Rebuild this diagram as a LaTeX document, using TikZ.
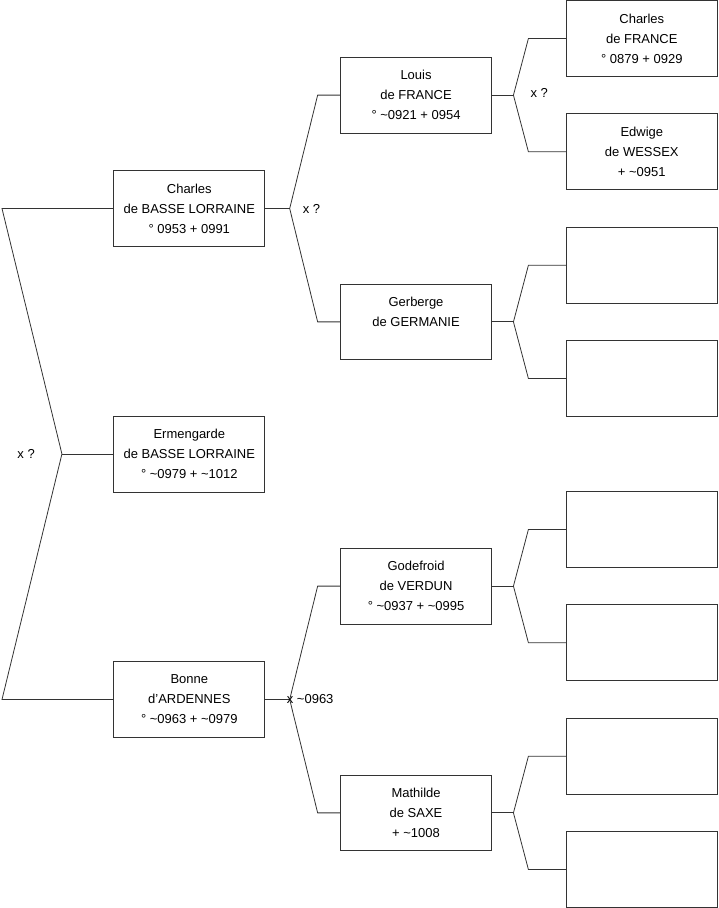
\documentclass[tikz,border=0pt]{standalone}
\usepackage{fontspec}
\setmainfont{Liberation Sans}
\usetikzlibrary{positioning,calc}
\newcommand{\abt}{\textasciitilde}

\begin{document}
\begin{tikzpicture}[
    x=1pt, y=-1pt,
    node distance=37.5pt,
    person/.style={rectangle, draw=black!80, line width=0.8pt, minimum width=151pt, minimum height=76pt, inner sep=0pt, outer sep=0pt, align=center, font=\fontsize{13}{20}\selectfont},
    link/.style={draw=black!80, line width=0.8pt},
    union/.style={anchor=west, inner sep=0pt, font=\fontsize{13}{16}\selectfont}
]
\useasboundingbox (0,-0.5) rectangle (719,908.5);

% Generation 4
\node[person] (charlesfr) at (642.5,38) {Charles\\de FRANCE\\° 0879 + 0929};
\node[person, below=of charlesfr] (edwige) {Edwige\\de WESSEX\\+ \abt0951};
\node[person, below=of edwige] (gerbergeF) {};
\node[person, below=of gerbergeF] (gerbergeM) {};
\node[person, below=75pt of gerbergeM] (godefroidF) {};
\node[person, below=of godefroidF] (godefroidM) {};
\node[person, below=of godefroidM] (mathildeF) {};
\node[person, below=of mathildeF] (mathildeM) {};

% Generation 3
\node[person] (louis) at ($(charlesfr)!.5!(edwige) + (-226,0)$) {Louis\\de FRANCE\\° \abt0921 + 0954};
\node[person] (gerberge) at ($(gerbergeF)!.5!(gerbergeM) + (-226,0)$) {Gerberge\\de GERMANIE\\~};
\node[person] (godefroid) at ($(godefroidF)!.5!(godefroidM) + (-226,0)$) {Godefroid\\de VERDUN\\° \abt0937 + \abt0995};
\node[person] (mathilde) at ($(mathildeF)!.5!(mathildeM) + (-226,0)$) {Mathilde\\de SAXE\\+ \abt1008};

% Generation 2
\node[person] (charles) at ($(louis)!.5!(gerberge) + (-227,0)$) {Charles\\de BASSE LORRAINE\\° 0953 + 0991};
\node[person] (bonne) at ($(godefroid)!.5!(mathilde) + (-227,0)$) {Bonne\\d'ARDENNES\\° \abt0963 + \abt0979};
\node[person] (ermengarde) at ($(charles)!.5!(bonne)$) {Ermengarde\\de BASSE LORRAINE\\° \abt0979 + \abt1012};

% Parents of Ermengarde
\draw[link] (ermengarde.west) -- ++(-52,0) coordinate (u1);
\draw[link] (u1) -- ([xshift=-112pt]charles.west) -- (charles.west);
\draw[link] (u1) -- ([xshift=-112pt]bonne.west) -- (bonne.west);
\node[union, anchor=east] at ([xshift=-27pt]u1) {x ?};

% Parents of Charles and Bonne
\draw[link] (charles.east) -- ++(25,0) coordinate (u2);
\draw[link] (u2) -- ([xshift=-23pt]louis.west) -- (louis.west);
\draw[link] (u2) -- ([xshift=-23pt]gerberge.west) -- (gerberge.west);
\node[union] at ([xshift=13pt]u2) {x ?};
\draw[link] (bonne.east) -- ++(25,0) coordinate (u3);
\draw[link] (u3) -- ([xshift=-23pt]godefroid.west) -- (godefroid.west);
\draw[link] (u3) -- ([xshift=-23pt]mathilde.west) -- (mathilde.west);
\node[union] at ([xshift=-3pt]u3) {x \abt0963};

% Generation 3 to 4
\draw[link] (louis.east) -- ++(22,0) coordinate (u4);
\draw[link] (u4) -- ([xshift=-38pt]charlesfr.west) -- (charlesfr.west);
\draw[link] (u4) -- ([xshift=-38pt]edwige.west) -- (edwige.west);
\node[union] at ([xshift=17pt,yshift=2pt]u4) {x ?};
\draw[link] (gerberge.east) -- ++(22,0) coordinate (u5);
\draw[link] (u5) -- ([xshift=-38pt]gerbergeF.west) -- (gerbergeF.west);
\draw[link] (u5) -- ([xshift=-38pt]gerbergeM.west) -- (gerbergeM.west);
\draw[link] (godefroid.east) -- ++(22,0) coordinate (u6);
\draw[link] (u6) -- ([xshift=-38pt]godefroidF.west) -- (godefroidF.west);
\draw[link] (u6) -- ([xshift=-38pt]godefroidM.west) -- (godefroidM.west);
\draw[link] (mathilde.east) -- ++(22,0) coordinate (u7);
\draw[link] (u7) -- ([xshift=-38pt]mathildeF.west) -- (mathildeF.west);
\draw[link] (u7) -- ([xshift=-38pt]mathildeM.west) -- (mathildeM.west);
\end{tikzpicture}
\end{document}
